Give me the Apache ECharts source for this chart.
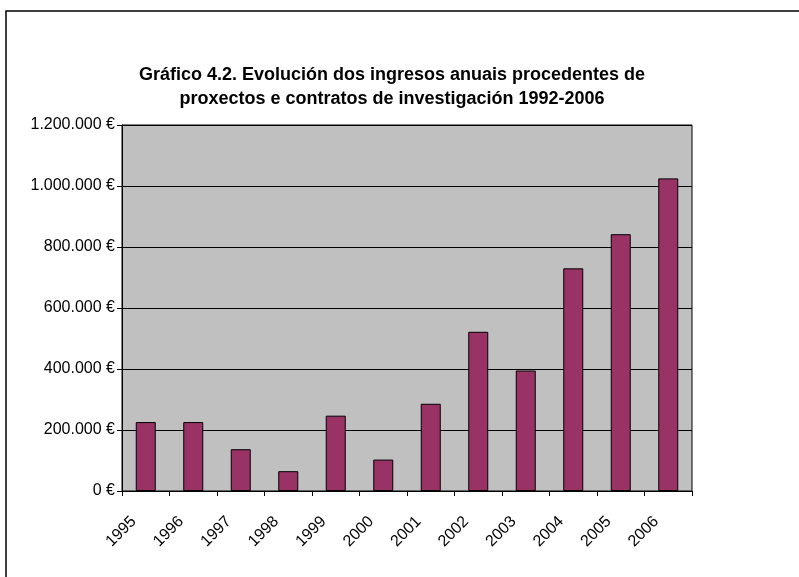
<!DOCTYPE html>
<html>
<head>
<meta charset="utf-8">
<script src="https://cdn.jsdelivr.net/npm/echarts@6/dist/echarts.min.js"></script>
<style>
  html, body { margin: 0; padding: 0; background: #fff; }
  #main { width: 799px; height: 577px; }
</style>
</head>
<body>
<div id="main"></div>
<script>
// datos do gráfico
var years = ['1995', '1996', '1997', '1998', '1999', '2000', '2001', '2002', '2003', '2004', '2005', '2006'];
var ingresos = [226000, 226000, 137000, 65000, 247000, 103000, 286000, 522000, 395000, 730000, 842000, 1025000];
var yTicks = [0, 200000, 400000, 600000, 800000, 1000000, 1200000];

var chart = echarts.init(document.getElementById('main'));

// formato 1.200.000 €
function euro(v) {
    var s = String(Math.round(v));
    return s.replace(/\B(?=(\d{3})+(?!\d))/g, '.') + ' €';
}

var option = {
    backgroundColor: '#ffffff',
    animation: false,
    title: {
        text: 'Gráfico 4.2. Evolución dos ingresos anuais procedentes de\nproxectos e contratos de investigación 1992-2006',
        left: 387,
        top: 58,
        textAlign: 'center',
        textStyle: {
            fontFamily: 'Liberation Sans, Arial, sans-serif',
            fontSize: 18,
            fontWeight: 'bold',
            color: '#000',
            lineHeight: 24
        }
    },
    graphic: [
        {
            // marco exterior
            type: 'rect',
            shape: { x: 6, y: 11, width: 900, height: 700 },
            style: { fill: 'none', stroke: '#000', lineWidth: 1.5 },
            silent: true
        }
    ],
    grid: {
        left: 122,
        right: 107,
        top: 125,
        bottom: 86,
        show: true,
        backgroundColor: '#c0c0c0',
        borderColor: '#000',
        borderWidth: 1
    },
    xAxis: {
        type: 'category',
        data: years,
        axisLine: { lineStyle: { color: '#000', width: 1 } },
        axisTick: { show: true, length: 5, lineStyle: { color: '#000' } },
        axisLabel: {
            rotate: 45,
            margin: 16,
            padding: [0, 17, 0, 0],
            fontFamily: 'Liberation Sans, Arial, sans-serif',
            fontSize: 16,
            color: '#000'
        }
    },
    yAxis: {
        type: 'value',
        min: yTicks[0],
        max: yTicks[yTicks.length - 1],
        interval: 200000,
        axisLine: { show: true, lineStyle: { color: '#000', width: 1 } },
        axisTick: { show: true, length: 5, lineStyle: { color: '#000' } },
        splitLine: { lineStyle: { color: '#000', width: 1 } },
        axisLabel: {
            margin: 7,
            fontFamily: 'Liberation Sans, Arial, sans-serif',
            fontSize: 16,
            color: '#000',
            formatter: euro
        }
    },
    series: [
        {
            type: 'bar',
            data: ingresos,
            barWidth: 20,
            itemStyle: {
                color: '#993366',
                borderColor: '#000',
                borderWidth: 1
            }
        }
    ]
};

chart.setOption(option);
</script>
</body>
</html>
